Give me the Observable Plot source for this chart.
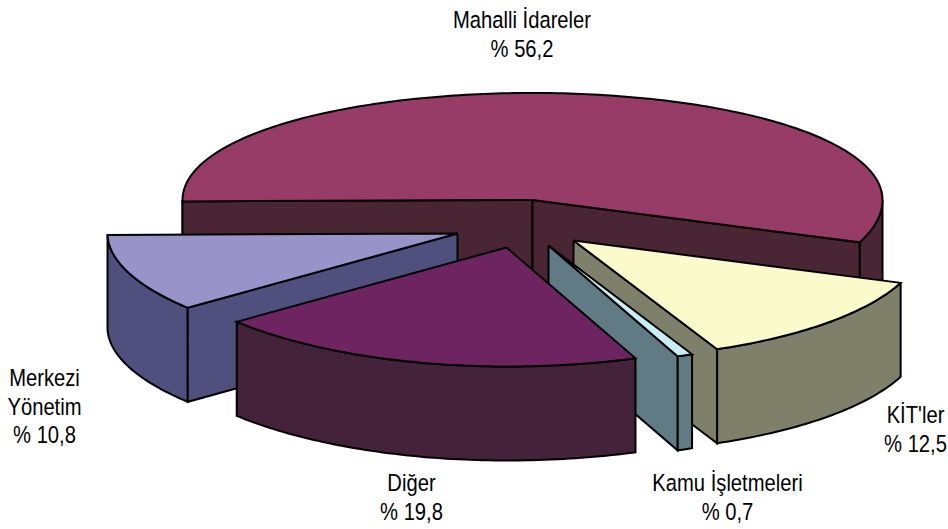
<!DOCTYPE html>
<html lang="tr">
<head>
<meta charset="utf-8">
<style>html,body{margin:0;padding:0;background:#fff}svg{display:block}</style>
<script src="https://cdn.jsdelivr.net/npm/d3@7"></script>
<script src="https://cdn.jsdelivr.net/npm/@observablehq/plot@0.6"></script>
</head>
<body>
<script>
// Data, in the reference's slice order (clockwise)
const categories = ["Mahalli İdareler", "KİT'ler", "Kamu İşletmeleri", "Diğer", "Merkezi\nYönetim"];
const shares = [56.2, 12.5, 0.7, 19.8, 10.8];

// Styles per slice
const topColors = ["#963c66", "#fafacb", "#c9edf6", "#6e2460", "#9894c9"];
const sideColors = ["#4a2635", "#7f8069", "#607b83", "#44233a", "#50507e"];

// Layout of the exploded 3D pie, in picture units
const pie = {startAngle: 269.3, radiusX: 350, radiusY: 112.7, perspective: 0.053, frontWiden: 0.04, depth: 94};
const apexX = [532, 573, 548, 506, 457];
const apexY = [199.5, 240, 245, 247, 233];
const labelX = [521.5, 915, 727, 411, 44];
const labelY = [33, 428, 496, 496, 405];
const drawOrder = [0, 4, 1, 2, 3];
const textSqueeze = 0.86;

// Angles are derived from the shares
const total = d3.sum(shares);
let running = pie.startAngle;
const slices = shares.map((v, i) => {
  const a0 = running;
  running += v / total * 360;
  return {i, a0, a1: running};
});

function project(slice, deg, down = 0) {
  const t = deg * Math.PI / 180, s = Math.sin(t), c = -Math.cos(t);
  const widen = s > 0 && c > 0 ? 1 + pie.frontWiden * c * c : 1;
  return {
    x: apexX[slice.i] + pie.radiusX * s * widen,
    y: apexY[slice.i] + pie.radiusY * c / (1 - pie.perspective * c) + down
  };
}
const apex = (slice, down = 0) => ({x: apexX[slice.i], y: apexY[slice.i] + down});

function arc(slice, a0, a1, down = 0) {
  const n = Math.max(2, Math.ceil(Math.abs(a1 - a0)));
  return d3.range(n + 1).map(k => project(slice, a0 + (a1 - a0) * k / n, down));
}
const closed = pts => [...pts, pts[0]];

// A wall along one cut edge of the slice
function wall(slice, deg) {
  const p = project(slice, deg), q = project(slice, deg, pie.depth);
  return closed([apex(slice), p, q, apex(slice, pie.depth)]);
}
// The visible outer rim: only the part of the arc that faces the viewer
function rim(slice) {
  const ranges = [[slice.a0, slice.a1], [slice.a0 - 360, slice.a1 - 360]];
  const out = [];
  for (const [a, b] of ranges) {
    const lo = Math.max(a, 90), hi = Math.min(b, 270);
    if (hi > lo) out.push(closed([...arc(slice, lo, hi), ...arc(slice, lo, hi, pie.depth).reverse()]));
  }
  return out;
}
const top3d = slice => closed([apex(slice), ...arc(slice, slice.a0, slice.a1)]);

// Which cut edges face the viewer for each slice
const visibleWalls = [
  s => [s.a0, s.a1],
  s => [s.a1],
  s => [s.a1],
  s => [],
  s => [s.a0]
];

const faceStyle = {x: "x", y: "y", stroke: "#000", strokeWidth: 2, strokeLinejoin: "miter", strokeLinecap: "butt", strokeMiterlimit: 10};
const marks = [];
for (const i of drawOrder) {
  const s = slices[i];
  for (const pts of rim(s)) marks.push(Plot.line(pts, {...faceStyle, fill: sideColors[i]}));
  for (const deg of visibleWalls[i](s)) marks.push(Plot.line(wall(s, deg), {...faceStyle, fill: sideColors[i]}));
  marks.push(Plot.line(top3d(s), {...faceStyle, fill: topColors[i]}));
}

const labels = categories.map((name, i) => ({
  text: `${name}\n% ${String(shares[i]).replace(".", ",")}`,
  x: labelX[i],
  y: labelY[i]
}));
marks.push(Plot.text(labels, {
  x: "x", y: "y", text: "text", fill: "#000",
  fontFamily: "'Liberation Sans', sans-serif",
  fontSize: 23.5, lineHeight: 1.213, textAnchor: "middle"
}));

const chart = Plot.plot({
  width: 948, height: 529,
  margin: 0,
  x: {domain: [0, 948], axis: null},
  y: {domain: [529, 0], axis: null},
  marks
});
// The reference's labels are set in a narrow face: condense them around their anchors
d3.select(chart).selectAll("text").attr("transform", function () {
  return `${this.getAttribute("transform") || ""} scale(${textSqueeze},1)`;
});
document.body.append(chart);
</script>
</body>
</html>
